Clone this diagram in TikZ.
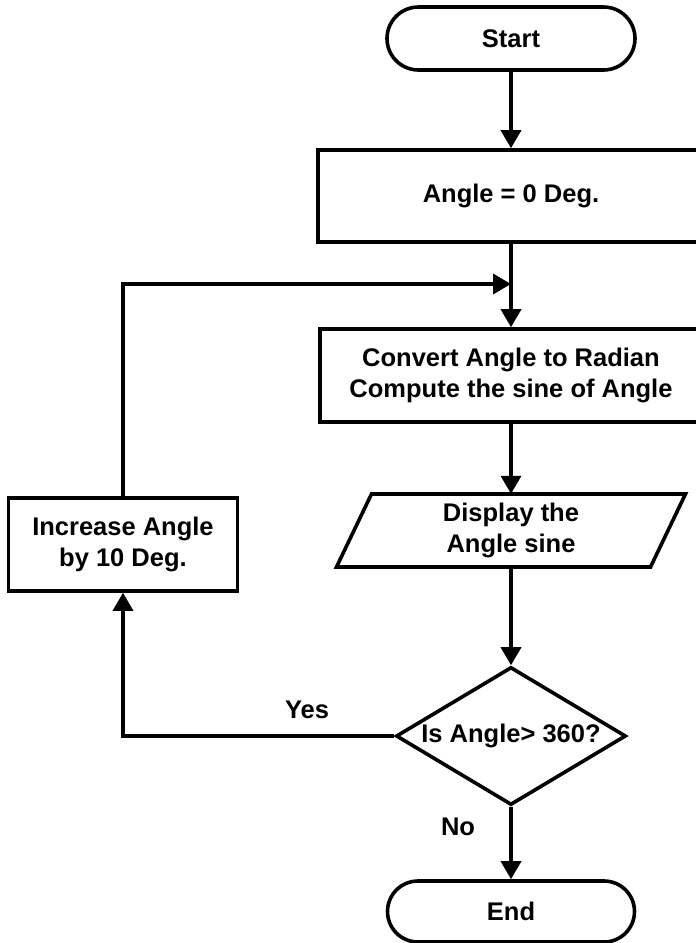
\documentclass[tikz,border=0pt]{standalone}
\usepackage{fontspec}
\setmainfont{Liberation Sans}
\usetikzlibrary{shapes.misc,shapes.geometric,arrows.meta}
\begin{document}
\begin{tikzpicture}[x=1pt,y=-1pt,
  every node/.style={font=\fontsize{25.5}{31.5}\selectfont\bfseries, align=center},
  base/.style={draw, line width=3.6pt, inner sep=0pt},
  term/.style={base, rounded rectangle, minimum width=248pt, minimum height=63pt},
  proc/.style={base, rectangle, minimum height=93pt},
  link/.style={line width=3.6pt, -{Triangle[length=18pt,width=20pt]}},
  plain/.style={line width=3.6pt},
  lbl/.style={inner sep=0pt}
]
\useasboundingbox (0,0) rectangle (696,943);
\node[term] (start) at (511,38.5) {Start};
\node[proc, minimum width=386pt, minimum height=92pt] (init) at (511,196) {Angle = 0 Deg.};
\node[proc, minimum width=382pt] (conv) at (511,375.5) {Convert Angle to Radian\\Compute the sine of Angle};
\node[inner sep=0pt, minimum width=279pt, minimum height=73pt] (disp) at (511,530.5) {Display the\\Angle sine};
\draw[plain] (disp.center) ++(-139.5,-36.5) -- ++(314,0) -- ++(-35,73) -- ++(-314,0) -- cycle;
\node[base, diamond, shape aspect=1.667, minimum width=230pt, minimum height=138pt] (dec) at (511,736) {Is Angle> 360?};
\node[term, minimum width=247pt, minimum height=61pt] (end) at (511,911.5) {End};
\node[proc, minimum width=229pt] (inc) at (123,544.5) {Increase Angle\\by 10 Deg.};
\coordinate (join) at (511,284);
\draw[link] (start) -- (init);
\draw[plain] (init) -- (join);
\draw[link] (join) -- (conv);
\draw[link] (conv) -- (disp);
\draw[link] (disp) -- (dec);
\draw[link] (dec) -- (end);
\draw[link] (dec.west) -| (inc.south);
\draw[link] (inc.north) |- (join);
\node[lbl] (yes) at (307,710) {Yes};
\node[lbl] (no) at (458,827) {No};
\end{tikzpicture}
\end{document}
